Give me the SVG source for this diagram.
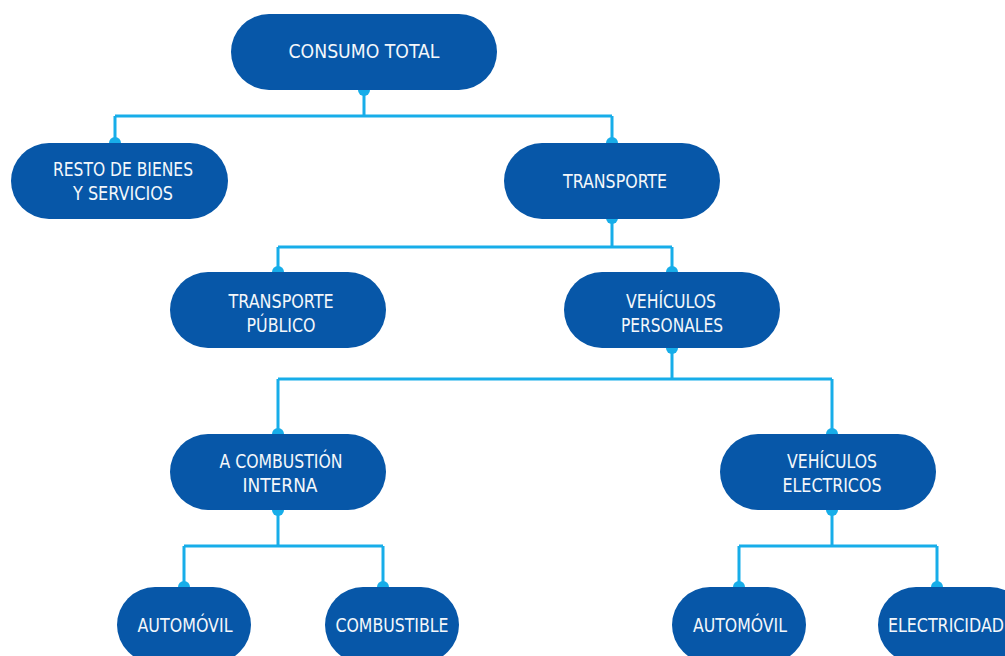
<svg xmlns="http://www.w3.org/2000/svg" width="1005" height="656" viewBox="0 0 1005 656">
  <style>
    .pill { fill: #0757a8; }
    .lbl { fill: #f4f7fb; font-family: "DejaVu Sans Condensed", "DejaVu Sans", "Liberation Sans", sans-serif; font-size: 20px; text-anchor: middle; }
    .wire { fill: none; stroke: #17ade9; stroke-width: 3; }
    .dot { fill: #17ade9; }
  </style>
  <rect width="1005" height="656" fill="#ffffff"/>

  <!-- connectors -->
  <g id="connectors">
    <path class="wire" d="M364 90 V116 M115 116 H612 M115 116 V143 M612 116 V143"/>
    <path class="wire" d="M612 219 V247 M278 247 H672 M278 247 V272 M672 247 V272"/>
    <path class="wire" d="M672 348 V379 M278 379 H832 M278 379 V434 M832 379 V434"/>
    <path class="wire" d="M278 510 V546 M184 546 H383 M184 546 V587 M383 546 V587"/>
    <path class="wire" d="M832 510 V546 M739 546 H937 M739 546 V587 M937 546 V587"/>
    <circle class="dot" cx="364" cy="90" r="6"/>
    <circle class="dot" cx="115" cy="143" r="6"/>
    <circle class="dot" cx="612" cy="143" r="6"/>
    <circle class="dot" cx="612" cy="218" r="6"/>
    <circle class="dot" cx="278" cy="272" r="6"/>
    <circle class="dot" cx="672" cy="272" r="6"/>
    <circle class="dot" cx="672" cy="348" r="6"/>
    <circle class="dot" cx="278" cy="434" r="6"/>
    <circle class="dot" cx="832" cy="434" r="6"/>
    <circle class="dot" cx="278" cy="510" r="6"/>
    <circle class="dot" cx="832" cy="510" r="6"/>
    <circle class="dot" cx="184" cy="587" r="6"/>
    <circle class="dot" cx="383" cy="587" r="6"/>
    <circle class="dot" cx="739" cy="587" r="6"/>
    <circle class="dot" cx="937" cy="587" r="6"/>
  </g>

  <g id="consumo-total">
    <rect class="pill" x="231" y="14" width="266" height="76" rx="38"/>
    <text class="lbl" x="364" y="58" textLength="151" lengthAdjust="spacingAndGlyphs">CONSUMO TOTAL</text>
  </g>

  <g id="resto-bienes">
    <rect class="pill" x="11" y="143" width="217" height="76" rx="38"/>
    <text class="lbl" x="123" y="176" textLength="140" lengthAdjust="spacingAndGlyphs">RESTO DE BIENES</text>
    <text class="lbl" x="123" y="200" textLength="100" lengthAdjust="spacingAndGlyphs">Y SERVICIOS</text>
  </g>

  <g id="transporte">
    <rect class="pill" x="504" y="143" width="216" height="76" rx="38"/>
    <text class="lbl" x="615" y="188" textLength="104" lengthAdjust="spacingAndGlyphs">TRANSPORTE</text>
  </g>

  <g id="transporte-publico">
    <rect class="pill" x="170" y="272" width="216" height="76" rx="38"/>
    <text class="lbl" x="281" y="308" textLength="105" lengthAdjust="spacingAndGlyphs">TRANSPORTE</text>
    <text class="lbl" x="281" y="332" textLength="69" lengthAdjust="spacingAndGlyphs">PÚBLICO</text>
  </g>

  <g id="vehiculos-personales">
    <rect class="pill" x="564" y="272" width="216" height="76" rx="38"/>
    <text class="lbl" x="671" y="308" textLength="90" lengthAdjust="spacingAndGlyphs">VEHÍCULOS</text>
    <text class="lbl" x="672" y="332" textLength="102" lengthAdjust="spacingAndGlyphs">PERSONALES</text>
  </g>

  <g id="combustion-interna">
    <rect class="pill" x="170" y="434" width="216" height="76" rx="38"/>
    <text class="lbl" x="281" y="468" textLength="123" lengthAdjust="spacingAndGlyphs">A COMBUSTIÓN</text>
    <text class="lbl" x="280" y="492" textLength="75" lengthAdjust="spacingAndGlyphs">INTERNA</text>
  </g>

  <g id="vehiculos-electricos">
    <rect class="pill" x="720" y="434" width="216" height="76" rx="38"/>
    <text class="lbl" x="832" y="468" textLength="90" lengthAdjust="spacingAndGlyphs">VEHÍCULOS</text>
    <text class="lbl" x="832" y="492" textLength="99" lengthAdjust="spacingAndGlyphs">ELECTRICOS</text>
  </g>

  <g id="automovil-combustion">
    <rect class="pill" x="117" y="587" width="134" height="76" rx="38"/>
    <text class="lbl" x="185" y="632" textLength="95" lengthAdjust="spacingAndGlyphs">AUTOMÓVIL</text>
  </g>

  <g id="combustible">
    <rect class="pill" x="325" y="587" width="134" height="76" rx="38"/>
    <text class="lbl" x="392" y="632" textLength="113" lengthAdjust="spacingAndGlyphs">COMBUSTIBLE</text>
  </g>

  <g id="automovil-electrico">
    <rect class="pill" x="672" y="587" width="134" height="76" rx="38"/>
    <text class="lbl" x="740" y="632" textLength="94" lengthAdjust="spacingAndGlyphs">AUTOMÓVIL</text>
  </g>

  <g id="electricidad">
    <rect class="pill" x="878" y="587" width="150" height="76" rx="38"/>
    <text class="lbl" x="946" y="632" textLength="116" lengthAdjust="spacingAndGlyphs">ELECTRICIDAD</text>
  </g>
</svg>
